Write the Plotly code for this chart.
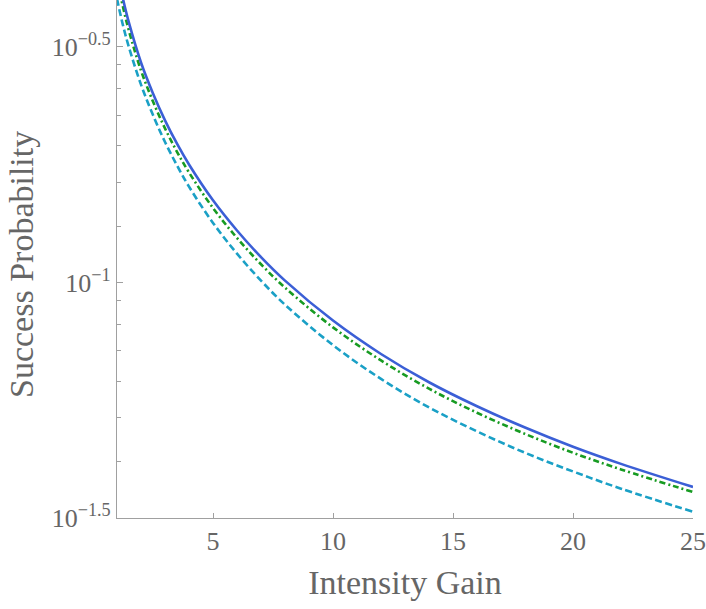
import plotly.graph_objects as go

# Data
gain = [1, 1.25, 1.5, 2, 2.5, 3, 3.5, 4, 5, 6, 7, 8, 10, 12, 14, 16, 18, 20, 22, 25]
prob_solid = [0.4592, 0.3997, 0.3555, 0.2931, 0.2519, 0.2209, 0.1970, 0.1780, 0.1494, 0.1289,
              0.1132, 0.1009, 0.0830, 0.0705, 0.0614, 0.0546, 0.0492, 0.0448, 0.0412, 0.0368]
prob_dashdot = [0.4416, 0.3844, 0.3418, 0.2818, 0.2422, 0.2124, 0.1894, 0.1712, 0.1439, 0.1243,
                0.1093, 0.0975, 0.0803, 0.0683, 0.0595, 0.0529, 0.0477, 0.0435, 0.0401, 0.0359]
prob_dashed = [0.4000, 0.3513, 0.3154, 0.2630, 0.2266, 0.1987, 0.1772, 0.1597, 0.1338, 0.1151,
               0.1009, 0.0897, 0.0736, 0.0624, 0.0543, 0.0483, 0.0435, 0.0397, 0.0365, 0.0326]

x_ticks = [5, 10, 15, 20, 25]
y_major_vals = [10 ** -1.5, 10 ** -1, 10 ** -0.5]
y_major_text = ["10<sup>\u22121.5</sup>", "10<sup>\u22121</sup>", "10<sup>\u22120.5</sup>"]
y_minor_vals = [0.04162, 0.05162, 0.06162, 0.07162, 0.08162, 0.09162,
                0.13162, 0.16325, 0.19487, 0.22649, 0.25811, 0.28974]

x_range = [1, 25]
y_range_log = [-1.5, -0.4004]

font_family = "Liberation Serif"
text_color = "#666666"
axis_color = "#a0a0a0"

fig = go.Figure()
fig.add_trace(go.Scatter(x=gain, y=prob_dashed, mode="lines",
                         line=dict(color="#1aa0c6", width=2.6, dash="7px,3.5px", shape="spline")))
fig.add_trace(go.Scatter(x=gain, y=prob_dashdot, mode="lines",
                         line=dict(color="#179b22", width=2.6, dash="6px,3px,2px,3px", shape="spline")))
fig.add_trace(go.Scatter(x=gain, y=prob_solid, mode="lines",
                         line=dict(color="#3b5fd6", width=2.6, shape="spline")))

fig.add_annotation(
    text="Success Probability", textangle=-90,
    xref="paper", yref="paper", x=0, y=0.5, xshift=-96, yshift=-6,
    xanchor="center", yanchor="middle", showarrow=False,
    font=dict(size=34, family=font_family, color=text_color),
)

fig.update_layout(
    width=706, height=609,
    margin=dict(l=117, r=13, t=0, b=91, autoexpand=False),
    paper_bgcolor="white", plot_bgcolor="white",
    showlegend=False,
    font=dict(family=font_family, color=text_color, size=24),
    xaxis=dict(
        range=x_range, tickvals=x_ticks, ticktext=[str(v) for v in x_ticks],
        showline=True, linecolor=axis_color, linewidth=1.3,
        ticks="inside", ticklen=5, tickcolor=axis_color, tickwidth=1.2,
        showgrid=False, zeroline=False, automargin=False,
        tickfont=dict(size=26, family=font_family, color=text_color),
        title=dict(text="Intensity Gain", font=dict(size=34, family=font_family, color=text_color),
                   standoff=14),
    ),
    yaxis=dict(
        type="log", range=y_range_log,
        tickvals=y_major_vals, ticktext=y_major_text,
        showline=True, linecolor=axis_color, linewidth=1.3,
        ticks="inside", ticklen=6, tickcolor=axis_color, tickwidth=1.2,
        showgrid=False, zeroline=False, automargin=False,
        tickfont=dict(size=26, family=font_family, color=text_color),
        minor=dict(tickmode="array", tickvals=y_minor_vals, ticks="inside",
                   ticklen=4, tickcolor=axis_color, tickwidth=1.2, showgrid=False),
    ),
)

fig.write_html("out.html", config={"displayModeBar": False},
               post_script="document.body.style.margin='0';")
